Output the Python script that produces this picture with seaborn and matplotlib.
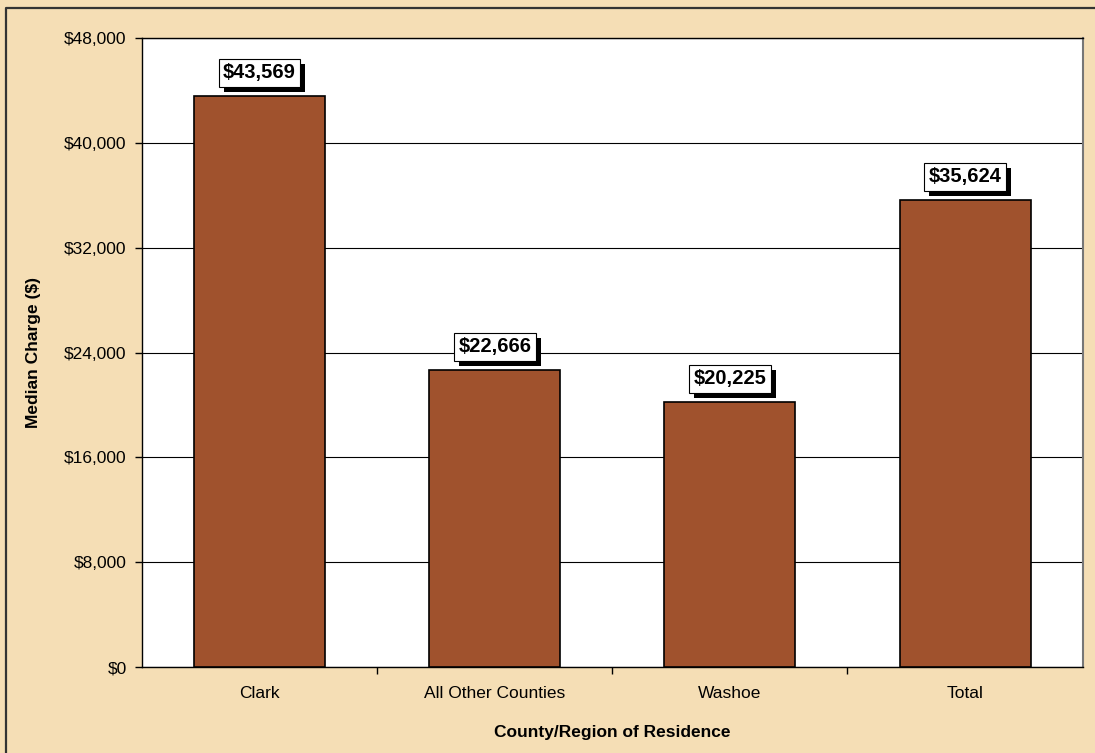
import matplotlib
matplotlib.use("Agg")
import matplotlib.pyplot as plt
import matplotlib.patheffects as pe
from matplotlib.lines import Line2D
from matplotlib.ticker import FuncFormatter, MultipleLocator
import seaborn as sns
import pandas as pd

categories = ["Clark", "All Other Counties", "Washoe", "Total"]
values = [43569, 22666, 20225, 35624]

sns.set_theme(style="white")
plt.rcParams['font.family'] = ['Liberation Sans', 'DejaVu Sans']
plt.rcParams['text.color'] = 'black'
plt.rcParams['axes.labelcolor'] = 'black'
plt.rcParams['xtick.color'] = 'black'
plt.rcParams['ytick.color'] = 'black'

bg = "#F5DEB5"
fig = plt.figure(figsize=(10.95, 7.53), dpi=100, facecolor=bg)
# figure frame: only top and left edges visible
fig.add_artist(Line2D([0.0055, 0.0055, 1.0], [0.0, 0.9895, 0.9895], transform=fig.transFigure,
                      color="#333333", linewidth=1.6, zorder=0))
ax = fig.add_axes([0.1297, 0.1142, 0.859, 0.8353])
ax.set_facecolor("white")

df = pd.DataFrame({"cat": categories, "val": values})
sns.barplot(data=df, x="cat", y="val", order=categories, color="#A0522D",
            saturation=1, width=0.557, edgecolor="black", linewidth=1.2, ax=ax, zorder=3)

ax.set_ylim(0, 48000)
ax.set_xlim(-0.5, 3.5)
ax.yaxis.set_major_locator(MultipleLocator(8000))
ax.yaxis.set_major_formatter(FuncFormatter(lambda v, p: f"${v:,.0f}"))
ax.grid(axis="y", color="black", linewidth=0.8, zorder=0)
ax.set_axisbelow(True)
for s in ax.spines.values():
    s.set_color("black")
    s.set_linewidth(1.0)
ax.spines["right"].set_color("#777777")
ax.spines["right"].set_linewidth(1.5)
ax.tick_params(axis="y", which="major", direction="out", length=5, width=1, color="black",
               labelsize=12.5, pad=6, left=True)
ax.set_xticks([0.5, 1.5, 2.5], minor=True)
ax.tick_params(axis="x", which="major", length=0, labelsize=12.5, pad=14)
ax.tick_params(axis="x", which="minor", direction="out", length=5, width=1, color="black", bottom=True)

ax.set_xlabel("County/Region of Residence", fontsize=12.5, fontweight="bold", labelpad=17)
ax.set_ylabel("Median Charge ($)", fontsize=12.5, fontweight="bold", labelpad=17)

for i, v in enumerate(values):
    t = ax.text(i, v + 1050, f"${v:,.0f}", ha="center", va="bottom", fontsize=14.5,
                fontweight="bold", color="black", zorder=5,
                bbox=dict(boxstyle="square,pad=0.22", facecolor="white", edgecolor="black", linewidth=0.8))
    t.get_bbox_patch().set_path_effects([pe.SimplePatchShadow(offset=(3.5, -3.5), shadow_rgbFace="black", alpha=1.0),
                                         pe.Normal()])

fig.savefig("out.png", dpi=100, facecolor=bg)
